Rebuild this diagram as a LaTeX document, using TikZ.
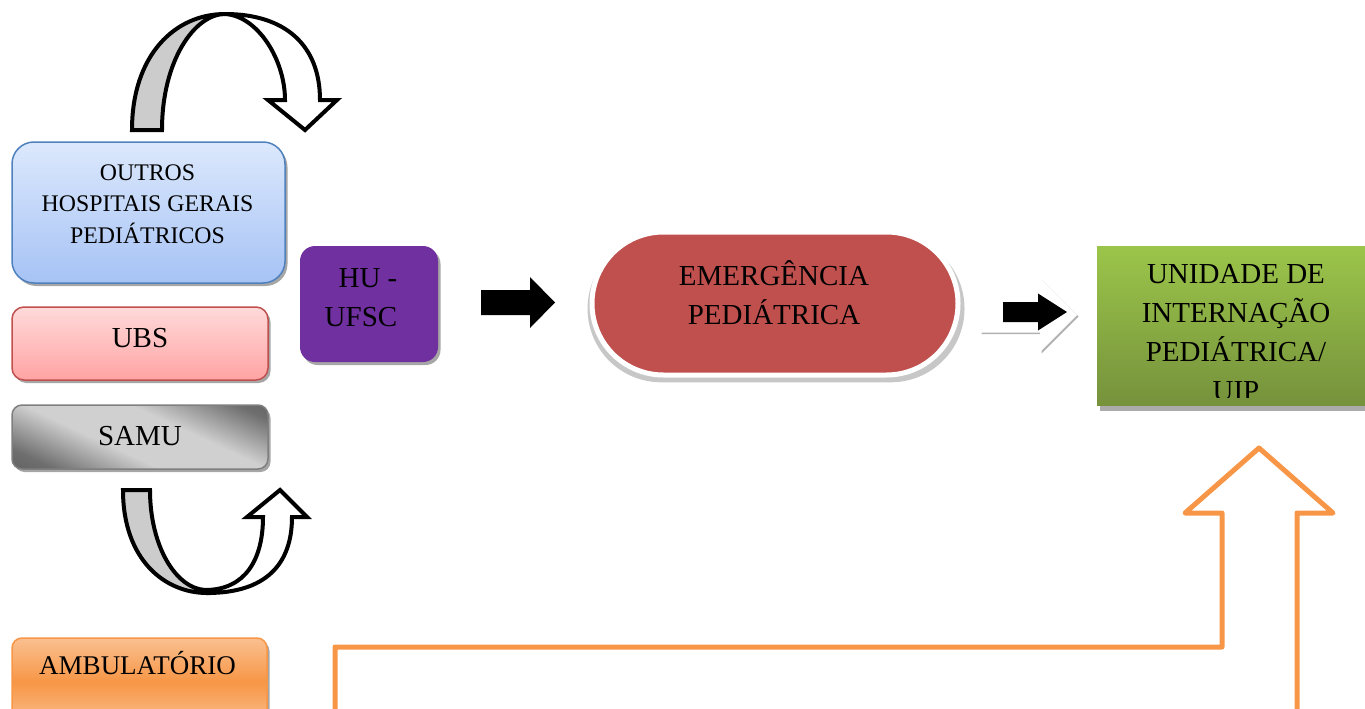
\documentclass[tikz,border=0pt]{standalone}
\usepackage{fontspec}
\setmainfont{Liberation Serif}
\usetikzlibrary{shapes.misc,shadows}
\definecolor{bluetop}{HTML}{DCE8FC}
\definecolor{bluebot}{HTML}{A6C3F5}
\definecolor{blueedge}{HTML}{4F81BD}
\definecolor{pinktop}{HTML}{FFDADA}
\definecolor{pinkbot}{HTML}{FFA3A3}
\definecolor{redge}{HTML}{C0504D}
\definecolor{purp}{HTML}{7030A0}
\definecolor{emred}{HTML}{C0504D}
\definecolor{greentop}{HTML}{9BC54A}
\definecolor{greenbot}{HTML}{76923C}
\definecolor{orng}{HTML}{F79646}
\definecolor{orngl}{HTML}{FAC090}
\definecolor{samudarker}{HTML}{4A4A4A}
\definecolor{samudark}{HTML}{6E6E6E}
\definecolor{samulight}{HTML}{D0D0D0}
\definecolor{samuedge}{HTML}{7F7F7F}
\pgfdeclareverticalshading{samushade}{100bp}{color(0bp)=(samudarker); color(24bp)=(samudark); color(42bp)=(samulight); color(60bp)=(samulight); color(78bp)=(samudark); color(100bp)=(samudarker)}
\newcommand\fsz[2]{\fontsize{#1}{#2}\selectfont}
\begin{document}
\begin{tikzpicture}[x=1pt,y=-1pt,
  box/.style={rectangle,inner sep=0pt,outer sep=0pt,line width=1.5pt,
    drop shadow={shadow xshift=2.5pt,shadow yshift=-3pt,fill=black,opacity=.35}},
  txt/.style={inner sep=0pt,align=center,text=black},
  curv/.style={draw=black,line width=4pt,line join=miter},
  blk/.style={fill=black}]
\useasboundingbox (0,0) rectangle (1365,709);
% left boxes
\node[box,rounded corners=22pt,minimum width=273pt,minimum height=141pt,
  top color=bluetop,bottom color=bluebot,draw=blueedge] (outros) at (148.5,212.5) {};
\node[txt,font=\fsz{23.8}{31.5}] (outrosT) at (147.5,204) {OUTROS\\HOSPITAIS GERAIS\\PEDIÁTRICOS};
\node[box,rounded corners=12pt,minimum width=256pt,minimum height=73pt,
  top color=pinktop,bottom color=pinkbot,draw=redge] (ubs) at (140,343.5) {};
\node[txt,font=\fsz{29}{39}] (ubsT) at (140,338) {UBS};
\node[box,rounded corners=10pt,minimum width=256pt,minimum height=64pt,
  shading=samushade,shading angle=-25,
  draw=samuedge] (samu) at (140,437) {};
\node[txt,font=\fsz{29}{39}] (samuT) at (140,436) {SAMU};
\node[box,rounded corners=10pt,minimum width=255pt,minimum height=88pt,
  top color=orngl,bottom color=orngl,middle color=orng,draw=orng] (amb) at (139.5,682) {};
\node[txt,font=\fsz{27}{32}] (ambT) at (137.5,663) {AMBULATÓRIO};
% HU
\node[box,rounded corners=15pt,minimum width=138pt,minimum height=116pt,
  fill=purp,line width=0pt] (hu) at (369,304) {};
\node[txt,font=\fsz{29}{39}] (huT) at (368,297.5) {HU -\\UFSC\kern14pt};
% arrow 1
\coordinate (a1) at (555,302.5);
\fill[blk] (a1) -- ++(-25,-25.5) -- ++(0,13) -- ++(-49,0) -- ++(0,25) -- ++(49,0) -- ++(0,13) -- cycle;
% emergencia
\node[rounded rectangle,minimum width=366pt,minimum height=143pt,inner sep=0pt,
  fill=emred,draw=white,line width=5pt,
  drop shadow={shadow xshift=1pt,shadow yshift=-5pt,shadow scale=1.03,fill=black,opacity=.22}] (emerg) at (775,303.5) {};
\node[txt,font=\fsz{29}{39}] (emergT) at (774,293) {EMERGÊNCIA\\PEDIÁTRICA};
% arrow 2 with white ghost arrow
\coordinate (a2w) at (1077,315);
\fill[white,drop shadow={shadow xshift=1.5pt,shadow yshift=-1.5pt,fill=black,opacity=.3}]
  (a2w) -- ++(-37,-37) -- ++(0,19.5) -- ++(-60,0) -- ++(0,35) -- ++(60,0) -- ++(0,19.5) -- cycle;
\coordinate (a2) at (1067,312);
\fill[blk] (a2) -- ++(-29,-18.5) -- ++(0,8.5) -- ++(-35,0) -- ++(0,20) -- ++(35,0) -- ++(0,8.5) -- cycle;
% green box
\node[rectangle,inner sep=0pt,minimum width=271pt,minimum height=159pt,
  top color=greentop,bottom color=greenbot,
  drop shadow={shadow xshift=3pt,shadow yshift=-6pt,fill=black,opacity=.33}] (uip) at (1232.5,325.5) {};
\begin{scope}
\clip (1097,246) rectangle (1368,397);
\node[txt,font=\fsz{29}{39}] (uipT) at (1236,332.5) {UNIDADE DE\\INTERNAÇÃO\\PEDIÁTRICA/\\UIP};
\end{scope}
% orange outline arrow
\coordinate (otip) at (1259,448);
\draw[orng,line width=5pt,line join=round]
  (otip) -- ++(74,65) -- ++(-36,0) -- (1297,712) -- (335,712) -- (335,647) -- (1222,647) -- (1222,513) -- ++(-37,0) -- cycle;
% top curved arrow
\draw[curv,fill=white] (225,14) .. controls (285,14) and (320,45) .. (320,100) -- (337,100) -- (305,130) -- (268,100) -- (285,100)
  .. controls (285,60) and (258,16) .. (225,14) -- cycle;
\draw[curv,fill=black!20] (132,130) .. controls (132,55) and (175,14) .. (225,14)
  .. controls (195,14) and (162,60) .. (162,130) -- cycle;
% bottom curved arrow
\draw[curv,fill=white] (207,593) .. controls (265,593) and (292,565) .. (292,517) -- (307,517) -- (280,490) -- (247,517) -- (263,517)
  .. controls (263,560) and (245,590) .. (205,590) -- cycle;
\draw[curv,fill=black!20] (123,490) -- (150,490) .. controls (150,545) and (175,588) .. (205,590)
  -- (207,593) .. controls (165,593) and (123,560) .. (123,490) -- cycle;
\end{tikzpicture}
\end{document}
